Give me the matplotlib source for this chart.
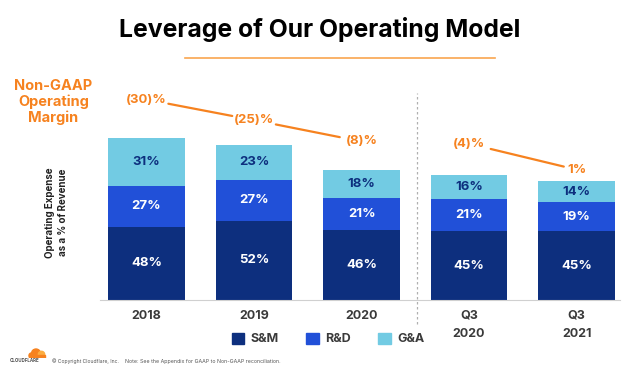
import matplotlib.pyplot as plt
from matplotlib.patches import Patch, Circle, Rectangle

plt.rcParams['font.family'] = ['Inter', 'DejaVu Sans']

periods = ["2018", "2019", "2020", "Q3\n2020", "Q3\n2021"]
sm = [48, 52, 46, 45, 45]
rd = [27, 27, 21, 21, 19]
ga = [31, 23, 18, 16, 14]
margin_labels = ["(30)%", "(25)%", "(8)%", "(4)%", "1%"]
# label heights above the bars (layout only)
margin_y = [131.5, 118, 104, 102.5, 85.5]
margin_groups = [(0, 1), (1, 2), (3, 4)]

navy = "#0d2f7e"
blue = "#2150d8"
light = "#72cbe3"
orange = "#f6821f"

W, H = 640, 371
fig = plt.figure(figsize=(W / 100, H / 100), dpi=100)


def fx(px):
    return px / W


def fy(py):
    return 1 - py / H


ax = fig.add_axes([fx(87.4), fy(300), fx(625) - fx(87.4), fy(86.6) - fy(300)])
x = list(range(len(periods)))
w = 0.71

b1 = ax.bar(x, sm, w, color=navy)
b2 = ax.bar(x, rd, w, bottom=sm, color=blue)
bot3 = [a + b for a, b in zip(sm, rd)]
b3 = ax.bar(x, ga, w, bottom=bot3, color=light)

for bars, vals, col in [(b1, sm, "white"), (b2, rd, "white"), (b3, ga, navy)]:
    ax.bar_label(bars, labels=[f"{v}%" for v in vals], label_type="center",
                 color=col, fontsize=9.5, fontweight="bold")

# non-GAAP margin labels and connectors
for i, lab in enumerate(margin_labels):
    ax.text(x[i], margin_y[i], lab, ha="center", va="center", color=orange,
            fontsize=9.5, fontweight="bold", clip_on=False)
for a, b in margin_groups:
    sa = 9.5 if margin_labels[a] == "1%" else 16
    sb = 9.5 if margin_labels[b] == "1%" else 16
    ax.annotate("", xy=(x[b], margin_y[b]), xytext=(x[a], margin_y[a]),
                arrowprops=dict(arrowstyle="-", color=orange, lw=1.6,
                                shrinkA=sa, shrinkB=sb), annotation_clip=False)

# divider between annual and quarterly
ax.plot([2.52, 2.52], [-16, 136], color="#b0b0b0", lw=0.9,
        linestyle=(0, (2, 2)), clip_on=False)

ax.set_xlim(-0.55, 4.45)
ax.set_ylim(0, 140)
ax.set_xticks(x)
ax.set_xticklabels(periods, fontsize=9, fontweight="bold", color="#3a3a3a")
for t in ax.get_xticklabels():
    t.set_linespacing(1.65)
ax.tick_params(axis="x", length=0, pad=7)
ax.set_yticks([])
for s in ["top", "right", "left"]:
    ax.spines[s].set_visible(False)
ax.spines["bottom"].set_color("#d0d0d0")
ax.spines["bottom"].set_bounds(-0.43, 4.4)

ax.set_ylabel("Operating Expense\nas a % of Revenue", fontsize=7,
              fontweight="bold", color="#222222", linespacing=1.3)
ax.yaxis.set_label_coords(-0.037, 0.41)

# title
fig.text(0.5, fy(36.7), "Leverage of Our Operating Model", ha="center",
         va="baseline", fontsize=17.8, fontweight="bold", color="black")
fig.add_artist(plt.Line2D([fx(185), fx(495)], [fy(57.7), fy(57.7)],
                          color="#f9a54f", lw=1.2))

fig.text(fx(53.5), fy(102), "Non-GAAP\nOperating\nMargin", ha="center",
         va="center", fontsize=10.5, fontweight="bold", color=orange,
         linespacing=1.15)

handles = [Patch(color=navy), Patch(color=blue), Patch(color=light)]
fig.legend(handles, ["S&M", "R&D", "G&A"], ncol=3, loc="center",
           bbox_to_anchor=(fx(328), fy(339)), frameon=False,
           prop={"weight": "bold", "size": 9}, handlelength=1.0,
           handleheight=1.0, handletextpad=0.5, columnspacing=2.2,
           labelcolor="#3a3a3a")

# footer: small cloud logo drawn from shapes
lax = fig.add_axes([fx(27), fy(358), fx(47) - fx(27), fy(348) - fy(358)])
lax.set_xlim(0, 20)
lax.set_ylim(0, 10)
lax.axis("off")
lax.add_patch(Circle((9, 4.5), 4.5, color=orange))
lax.add_patch(Circle((14.5, 3.5), 3.2, color="#fbad41"))
lax.add_patch(Circle((4.5, 2.5), 2.5, color=orange))
lax.add_patch(Rectangle((2, 0), 16, 2.8, color=orange))

fig.text(fx(10), fy(361), "CLOUDFLARE", ha="left", va="center",
         fontsize=3.2, fontweight="bold", color="#555555")
fig.text(fx(52), fy(361), "\u00a9 Copyright Cloudflare, Inc.", ha="left",
         va="center", fontsize=3.6, color="#555555")
fig.text(fx(125), fy(361),
         "Note: See the Appendix for GAAP to Non-GAAP reconciliation.",
         ha="left", va="center", fontsize=3.8, color="#555555")

fig.savefig("out.png", dpi=100)
